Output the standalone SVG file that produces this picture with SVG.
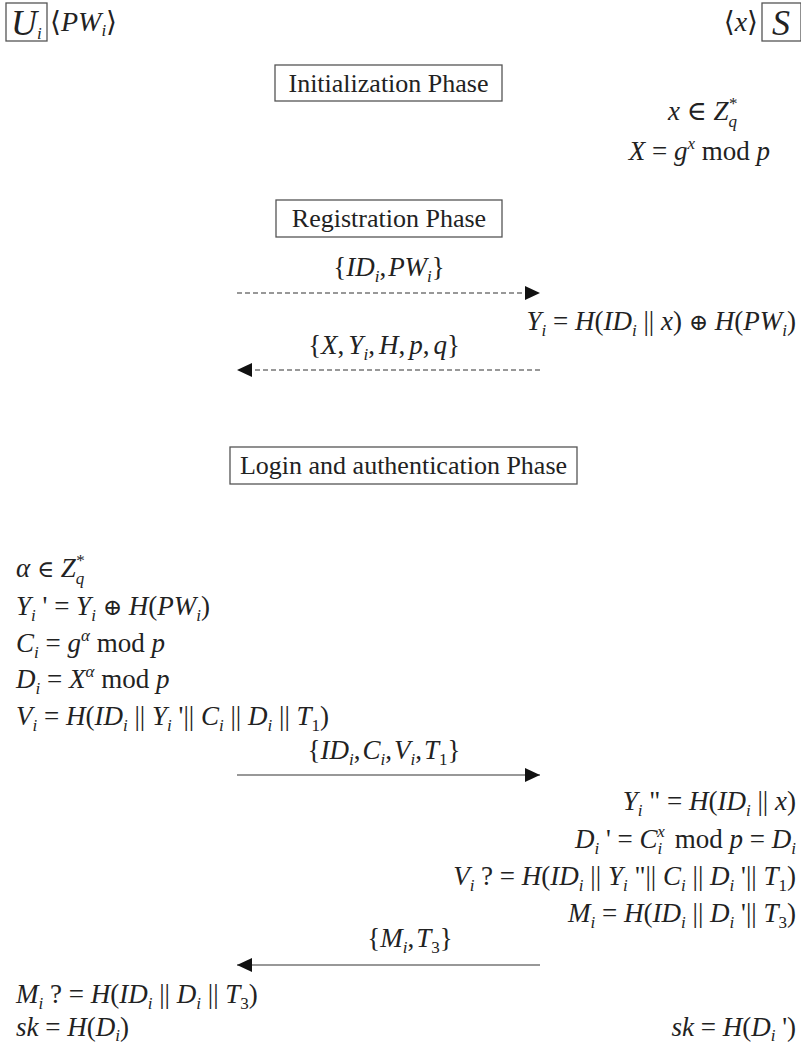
<svg xmlns="http://www.w3.org/2000/svg" width="801" height="1043" viewBox="0 0 801 1043" font-family="'Liberation Serif', 'Times New Roman', Tinos, Times, 'DejaVu Serif', serif">
<style>
text, tspan{font-family:"Liberation Serif","Times New Roman",Tinos,Times,"DejaVu Serif",serif}
text{fill:#222}
.m{font-size:27px}
.lbl{font-size:26px}
.it{font-style:italic}
.sb{font-size:17px}
.op{font-size:23px}
.box{fill:#fff;stroke:#555;stroke-width:1.3}
.ln{stroke:#333;stroke-width:1.2;fill:none}
.ds{stroke-dasharray:5 3}
</style>
<defs>
<marker id="ah" markerUnits="userSpaceOnUse" markerWidth="16" markerHeight="14" refX="15" refY="7" orient="auto">
<path d="M0,0 L15,7 L0,14 z" fill="#111"/>
</marker>
</defs>

<g id="user">
<rect class="box" x="6" y="3" width="41" height="38"/>
<text class="m it" x="11" y="35" style="font-size:36px">U<tspan class="sb" dy="4">i</tspan></text>
<text class="m" x="50" y="31" style="font-size:28px">⟨<tspan class="it">PW</tspan><tspan class="sb it" dy="5">i</tspan><tspan dy="-5">⟩</tspan></text>
</g>
<g id="server">
<text class="m" x="758" y="31" text-anchor="end" style="font-size:28px">⟨<tspan class="it">x</tspan>⟩</text>
<rect class="box" x="762" y="3" width="39" height="38"/>
<text class="m it" x="781" y="35" text-anchor="middle" style="font-size:36px">S</text>
</g>

<g id="init-phase">
<rect class="box" x="275" y="65" width="227" height="36"/>
<text class="lbl" x="388.5" y="92" text-anchor="middle">Initialization Phase</text>
</g>
<g id="init-server">
<text class="m" x="668" y="120"><tspan class="it">x</tspan> ∈ <tspan class="it">Z</tspan><tspan class="sb it" dy="7">q</tspan><tspan class="sb" dx="-8" dy="-18">*</tspan></text>
<text class="m" x="770" y="160" text-anchor="end"><tspan class="it">X</tspan> = <tspan class="it">g</tspan><tspan class="sb it" dy="-11">x</tspan><tspan dy="11"> mod </tspan><tspan class="it">p</tspan></text>
</g>

<g id="reg-phase">
<rect class="box" x="276" y="200" width="226" height="37"/>
<text class="lbl" x="389" y="227" text-anchor="middle">Registration Phase</text>
</g>
<g id="reg-server">
<text class="m" x="796" y="330" text-anchor="end"><tspan class="it">Y</tspan><tspan class="sb it" dy="6">i</tspan><tspan dy="-6"> = </tspan><tspan class="it">H</tspan>(<tspan class="it">ID</tspan><tspan class="sb it" dy="6">i</tspan><tspan dy="-6"> || </tspan><tspan class="it">x</tspan>) <tspan class="op">⊕</tspan> <tspan class="it">H</tspan>(<tspan class="it">PW</tspan><tspan class="sb it" dy="6">i</tspan><tspan dy="-6">)</tspan></text>
</g>

<g id="login-phase">
<rect class="box" x="230" y="447" width="347" height="37"/>
<text class="lbl" x="403.5" y="474" text-anchor="middle">Login and authentication Phase</text>
</g>

<g id="login-user">
<text class="m" x="16" y="577"><tspan class="it">α</tspan> <tspan class="op">∈</tspan> <tspan class="it">Z</tspan><tspan class="sb it" dy="7">q</tspan><tspan class="sb" dx="-8" dy="-18">*</tspan></text>
<text class="m" x="16" y="615"><tspan class="it">Y</tspan><tspan class="sb it" dy="6">i</tspan><tspan dy="-6"> ' = </tspan><tspan class="it">Y</tspan><tspan class="sb it" dy="6">i</tspan><tspan dy="-6"> </tspan><tspan class="op">⊕</tspan> <tspan class="it">H</tspan>(<tspan class="it">PW</tspan><tspan class="sb it" dy="6">i</tspan><tspan dy="-6">)</tspan></text>
<text class="m" x="16" y="652"><tspan class="it">C</tspan><tspan class="sb it" dy="6">i</tspan><tspan dy="-6"> = </tspan><tspan class="it">g</tspan><tspan class="sb it" dy="-11">α</tspan><tspan dy="11"> mod </tspan><tspan class="it">p</tspan></text>
<text class="m" x="16" y="688"><tspan class="it">D</tspan><tspan class="sb it" dy="6">i</tspan><tspan dy="-6"> = </tspan><tspan class="it">X</tspan><tspan class="sb it" dy="-11">α</tspan><tspan dy="11"> mod </tspan><tspan class="it">p</tspan></text>
<text class="m" x="16" y="725"><tspan class="it">V</tspan><tspan class="sb it" dy="6">i</tspan><tspan dy="-6"> = </tspan><tspan class="it">H</tspan>(<tspan class="it">ID</tspan><tspan class="sb it" dy="6">i</tspan><tspan dy="-6"> || </tspan><tspan class="it">Y</tspan><tspan class="sb it" dy="6">i</tspan><tspan dy="-6"> '|| </tspan><tspan class="it">C</tspan><tspan class="sb it" dy="6">i</tspan><tspan dy="-6"> || </tspan><tspan class="it">D</tspan><tspan class="sb it" dy="6">i</tspan><tspan dy="-6"> || </tspan><tspan class="it">T</tspan><tspan class="sb" dy="6">1</tspan><tspan dy="-6">)</tspan></text>
</g>

<g id="auth-server">
<text class="m" x="796" y="810" text-anchor="end"><tspan class="it">Y</tspan><tspan class="sb it" dy="6">i</tspan><tspan dy="-6"> " = </tspan><tspan class="it">H</tspan>(<tspan class="it">ID</tspan><tspan class="sb it" dy="6">i</tspan><tspan dy="-6"> || </tspan><tspan class="it">x</tspan>)</text>
<text class="m" x="796" y="848" text-anchor="end"><tspan class="it">D</tspan><tspan class="sb it" dy="6">i</tspan><tspan dy="-6"> ' = </tspan><tspan class="it">C</tspan><tspan class="sb it" dy="6">i</tspan><tspan class="sb it" dx="-5" dy="-17">x</tspan><tspan dy="11" dx="10">mod </tspan><tspan class="it">p</tspan> = <tspan class="it">D</tspan><tspan class="sb it" dy="6">i</tspan></text>
<text class="m" x="796" y="885" text-anchor="end"><tspan class="it">V</tspan><tspan class="sb it" dy="6">i</tspan><tspan dy="-6"> ? = </tspan><tspan class="it">H</tspan>(<tspan class="it">ID</tspan><tspan class="sb it" dy="6">i</tspan><tspan dy="-6"> || </tspan><tspan class="it">Y</tspan><tspan class="sb it" dy="6">i</tspan><tspan dy="-6"> "|| </tspan><tspan class="it">C</tspan><tspan class="sb it" dy="6">i</tspan><tspan dy="-6"> || </tspan><tspan class="it">D</tspan><tspan class="sb it" dy="6">i</tspan><tspan dy="-6"> '|| </tspan><tspan class="it">T</tspan><tspan class="sb" dy="6">1</tspan><tspan dy="-6">)</tspan></text>
<text class="m" x="796" y="922" text-anchor="end"><tspan class="it">M</tspan><tspan class="sb it" dy="6">i</tspan><tspan dy="-6"> = </tspan><tspan class="it">H</tspan>(<tspan class="it">ID</tspan><tspan class="sb it" dy="6">i</tspan><tspan dy="-6"> || </tspan><tspan class="it">D</tspan><tspan class="sb it" dy="6">i</tspan><tspan dy="-6"> '|| </tspan><tspan class="it">T</tspan><tspan class="sb" dy="6">3</tspan><tspan dy="-6">)</tspan></text>
</g>

<g id="final-user">
<text class="m" x="16" y="1003"><tspan class="it">M</tspan><tspan class="sb it" dy="6">i</tspan><tspan dy="-6"> ? = </tspan><tspan class="it">H</tspan>(<tspan class="it">ID</tspan><tspan class="sb it" dy="6">i</tspan><tspan dy="-6"> || </tspan><tspan class="it">D</tspan><tspan class="sb it" dy="6">i</tspan><tspan dy="-6"> || </tspan><tspan class="it">T</tspan><tspan class="sb" dy="6">3</tspan><tspan dy="-6">)</tspan></text>
<text class="m" x="16" y="1036"><tspan class="it">sk</tspan> = <tspan class="it">H</tspan>(<tspan class="it">D</tspan><tspan class="sb it" dy="5">i</tspan><tspan dy="-5">)</tspan></text>
</g>
<g id="final-server">
<text class="m" x="796" y="1036" text-anchor="end"><tspan class="it">sk</tspan> = <tspan class="it">H</tspan>(<tspan class="it">D</tspan><tspan class="sb it" dy="5">i</tspan><tspan dy="-5"> ')</tspan></text>
</g>

<g id="connectors">
<line class="ln ds" x1="237" y1="293" x2="540" y2="293" marker-end="url(#ah)"/>
<text class="m" x="389" y="276" text-anchor="middle">{<tspan class="it">ID</tspan><tspan class="sb it" dy="6">i</tspan><tspan dy="-6">,</tspan><tspan class="it" dx="2">PW</tspan><tspan class="sb it" dy="6">i</tspan><tspan dy="-6">}</tspan></text>
<line class="ln ds" x1="540" y1="370" x2="237" y2="370" marker-end="url(#ah)"/>
<text class="m" x="384" y="354" text-anchor="middle">{<tspan class="it">X</tspan>,<tspan class="it" dx="4">Y</tspan><tspan class="sb it" dy="6">i</tspan><tspan dy="-6">,</tspan><tspan class="it" dx="4">H</tspan>,<tspan class="it" dx="4">p</tspan>,<tspan class="it" dx="4">q</tspan>}</text>
<line class="ln" x1="237" y1="775" x2="540" y2="775" marker-end="url(#ah)"/>
<text class="m" x="384" y="759" text-anchor="middle">{<tspan class="it">ID</tspan><tspan class="sb it" dy="6">i</tspan><tspan dy="-6">,</tspan><tspan class="it" dx="2">C</tspan><tspan class="sb it" dy="6">i</tspan><tspan dy="-6">,</tspan><tspan class="it" dx="2">V</tspan><tspan class="sb it" dy="6">i</tspan><tspan dy="-6">,</tspan><tspan class="it" dx="2">T</tspan><tspan class="sb" dy="6">1</tspan><tspan dy="-6">}</tspan></text>
<line class="ln" x1="540" y1="965" x2="237" y2="965" marker-end="url(#ah)"/>
<text class="m" x="410" y="947" text-anchor="middle">{<tspan class="it">M</tspan><tspan class="sb it" dy="6">i</tspan><tspan dy="-6">,</tspan><tspan class="it" dx="2">T</tspan><tspan class="sb" dy="6">3</tspan><tspan dy="-6">}</tspan></text>
</g>
</svg>
